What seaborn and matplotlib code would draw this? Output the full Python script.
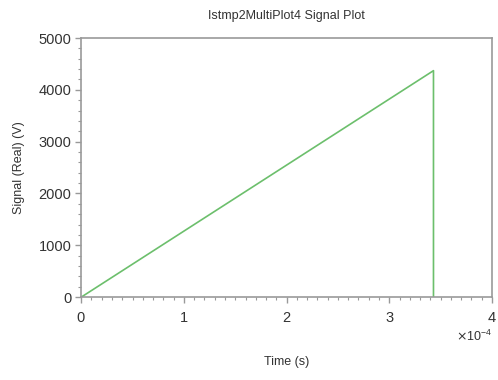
import matplotlib
matplotlib.use("Agg")
import matplotlib.pyplot as plt
import seaborn as sns
import pandas as pd
from matplotlib.ticker import MultipleLocator, ScalarFormatter

time_s = [0.0, 3.43e-4, 3.43e-4]
signal_v = [0.0, 4370.0, 0.0]

sns.set_style("white")
plt.rcParams['font.family'] = ['Liberation Sans', 'DejaVu Sans']

df = pd.DataFrame({"Time (s)": time_s, "Signal (Real) (V)": signal_v})

fig = plt.figure(figsize=(4.98, 3.80), dpi=100)
ax = fig.add_axes([0.163, 0.218, 0.825, 0.682])
sns.lineplot(data=df, x="Time (s)", y="Signal (Real) (V)", sort=False,
             color="#6cbf6c", linewidth=1.2, ax=ax, estimator=None)

ax.set_xlim(0, 4e-4)
ax.set_ylim(0, 5000)
ax.xaxis.set_major_locator(MultipleLocator(1e-4))
ax.xaxis.set_minor_locator(MultipleLocator(1e-5))
ax.yaxis.set_major_locator(MultipleLocator(1000))
ax.yaxis.set_minor_locator(MultipleLocator(200))
fmt = ScalarFormatter(useMathText=True)
fmt.set_powerlimits((-3, 3))
ax.xaxis.set_major_formatter(fmt)

for s in ax.spines.values():
    s.set_color("#999999")
    s.set_linewidth(1.2)

ax.tick_params(axis="both", which="major", direction="out", length=4, width=1,
               color="#999999", labelsize=10.5, labelcolor="#333333", pad=3)
ax.tick_params(axis="x", which="major", pad=6)
ax.tick_params(axis="both", which="minor", direction="out", length=2.5, width=0.8,
               color="#999999")
ax.tick_params(bottom=True, left=True, which="both")
ot = ax.xaxis.get_offset_text()
ot.set_fontsize(9)
ot.set_color("#333333")
ot.set_y(-0.04)

ax.set_xlabel("Time (s)", fontsize=9, color="#333333", labelpad=22)
ax.set_ylabel("Signal (Real) (V)", fontsize=9, color="#333333", labelpad=10)
ax.set_title("Istmp2MultiPlot4 Signal Plot", fontsize=9, color="#333333", pad=14)

fig.savefig("out.png", dpi=100)
